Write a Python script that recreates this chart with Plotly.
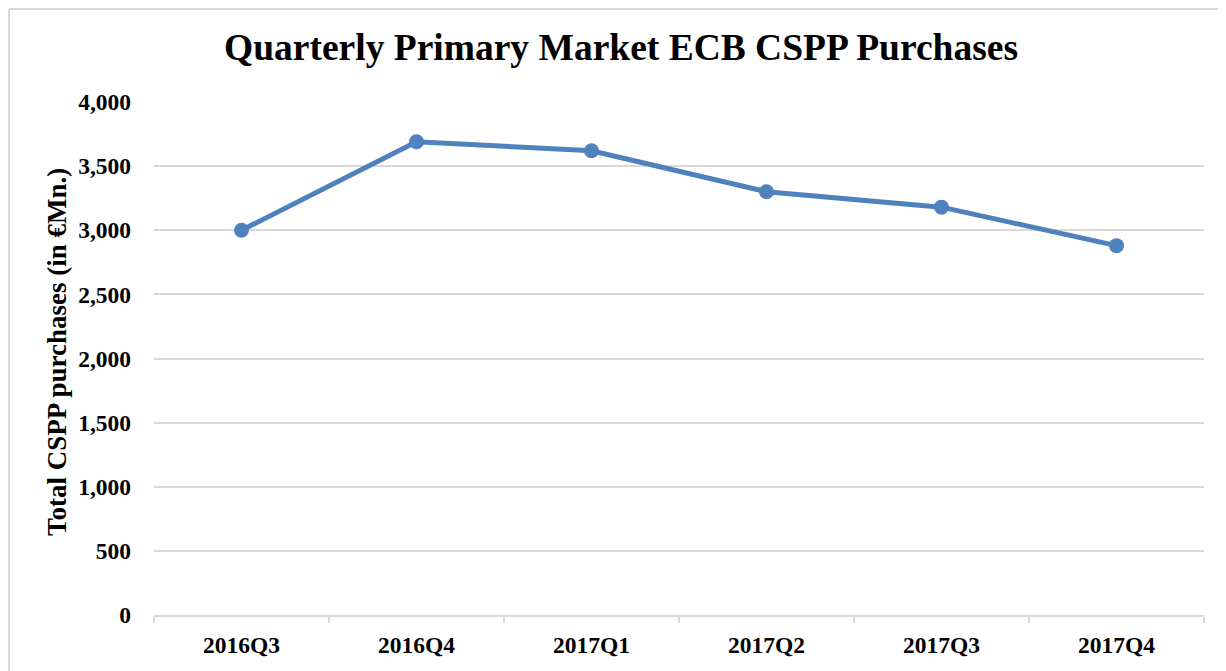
import plotly.graph_objects as go

quarters = ["2016Q3", "2016Q4", "2017Q1", "2017Q2", "2017Q3", "2017Q4"]
purchases = [3000, 3690, 3620, 3300, 3180, 2880]
y_ticks = [0, 500, 1000, 1500, 2000, 2500, 3000, 3500, 4000]
y_tick_text = ["0", "500", "1,000", "1,500", "2,000", "2,500", "3,000", "3,500", "4,000"]

# page has an 8px body margin; figure coordinates = page coordinates - 8
W, H = 1218, 663
ML, MR, MT, MB = 146, 22, 94, 56
PW, PH = W - ML - MR, H - MT - MB

def px_x(px):
    return (px - ML) / PW

def px_y(py):
    return (H - MB - py) / PH

FONT = "Liberation Serif, Times New Roman, serif"
GRID = "#d9d9d9"
BLUE = "#4f81bd"

fig = go.Figure()
fig.add_trace(go.Scatter(
    x=quarters, y=purchases, mode="lines+markers",
    line=dict(color=BLUE, width=5),
    marker=dict(color=BLUE, size=15),
    showlegend=False, hoverinfo="x+y",
))

fig.update_layout(
    width=W, height=H,
    margin=dict(l=ML, r=MR, t=MT, b=MB),
    paper_bgcolor="white", plot_bgcolor="white",
    font=dict(family=FONT, color="black"),
    title=dict(
        text="<b>Quarterly Primary Market ECB CSPP Purchases</b>",
        x=613 / W, xanchor="center", y=1 - 39 / H, yanchor="middle",
        font=dict(size=37.5, family=FONT, color="black"),
    ),
    xaxis=dict(
        type="category", range=[-0.5, len(quarters) - 0.5],
        showgrid=False, showline=True, linecolor=GRID, linewidth=1.5,
        ticks="outside", tickson="boundaries", ticklen=6, tickcolor=GRID, tickwidth=1.5,
        tickfont=dict(size=23.5, family=FONT, color="black"), ticklabelstandoff=8,
        tickprefix="<b>", ticksuffix="</b>", zeroline=False,
    ),
    yaxis=dict(
        range=[0, 4000], tickvals=y_ticks, ticktext=["<b>%s</b>" % t for t in y_tick_text],
        showgrid=True, gridcolor=GRID, gridwidth=1.5, zeroline=False, showline=False,
        tickfont=dict(size=23.5, family=FONT, color="black"), ticklabelstandoff=22,
    ),
    annotations=[
        dict(text="<b>Total CSPP purchases (in €Mn.)</b>", textangle=-90,
             xref="paper", yref="paper", x=px_x(49), y=px_y(344),
             xanchor="center", yanchor="middle", showarrow=False,
             font=dict(size=27, family=FONT, color="black")),
    ],
    shapes=[
        dict(type="line", xref="paper", yref="paper", x0=px_x(1), x1=px_x(1), y0=px_y(1), y1=px_y(700),
             line=dict(color=GRID, width=2)),
        dict(type="line", xref="paper", yref="paper", x0=px_x(1), x1=px_x(1240), y0=px_y(1), y1=px_y(1),
             line=dict(color=GRID, width=2)),
    ],
)

fig.write_html("out.html")
